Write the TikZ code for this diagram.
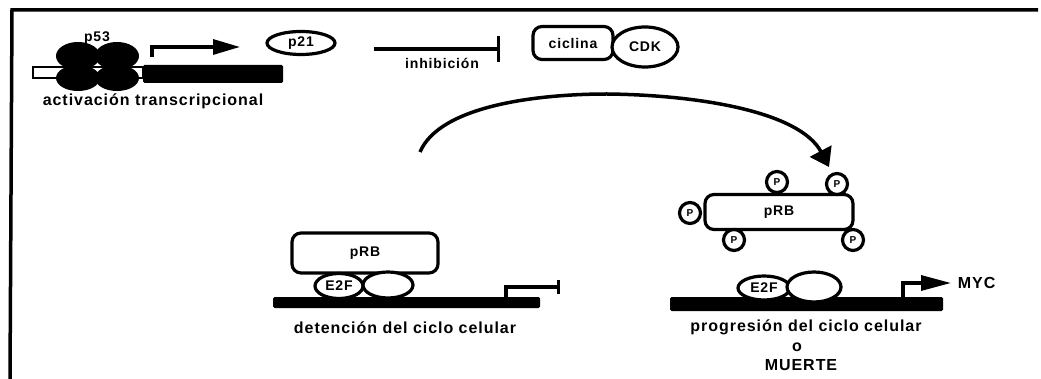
\documentclass[tikz,border=0pt]{standalone}
\usepackage{fontspec}
\setmainfont{Liberation Sans}[LetterSpace=6]
\usetikzlibrary{arrows.meta,shapes.geometric}

\begin{document}
\begin{tikzpicture}[x=1pt,y=-1pt,line width=3.2pt,
    txt/.style={font=\fontsize{16}{18}\selectfont\bfseries},
    sm/.style={font=\fontsize{14}{16}\selectfont\bfseries},
    prot/.style={draw,fill=white,ellipse,inner sep=0pt,sm},
    box/.style={draw,fill=white,rounded corners=9pt,inner sep=0pt,sm},
    pho/.style={draw,fill=white,circle,minimum size=21pt,inner sep=0pt,
        font=\fontsize{10}{11}\selectfont\bfseries},
    dna/.style={fill=black,rounded corners=1.5pt},
    prom/.style={-{Triangle[length=27pt,width=15pt]}},
    stop/.style={-{Bar[width=13pt]}}]
            \useasboundingbox (0,0) rectangle (1041,379);

            % frame
            \coordinate (f1) at (12,10);
            \coordinate (f2) at (1038,10);
            \coordinate (f3) at (10,379);
            \draw[line width=3.5pt] (f3) -- (f1) -- (f2);

            % p53 on its promoter
            \draw[fill=white,line width=2.5pt] (33,67) rectangle (143,78);
            \fill[dna] (143,65) rectangle (283,83);
            \fill (78,56) ellipse (22 and 14);
            \fill (117,56) ellipse (22 and 14);
            \fill (78,78) ellipse (22 and 13);
            \fill (117,78) ellipse (22 and 13);
            \node[sm] (p53) at (97,38) {p53};
            \coordinate (tss1) at (152,57);
            \coordinate (tss1end) at (240,47);
            \draw[prom] (tss1) |- (tss1end);
            \node[txt] (activ) at (153,101) {activación transcripcional};

            % p21 -| ciclina/CDK
            \node[prot,minimum width=68pt,minimum height=23pt] (p21) at (301,43) {p21};
            \node[box,minimum width=80pt,minimum height=33pt] (ciclina) at (573,43) {ciclina};
            \node[prot,minimum width=66pt,minimum height=40pt] (cdk) at (645,47) {CDK};
            \draw[-{Bar[width=26pt]},shorten <=37pt,shorten >=31pt] (p21.east |- 0,49) -- (ciclina.west |- 0,49);
            \node[sm] (inhib) at (442,63) {inhibición};

            % fosforilacion
            \coordinate (a1) at (420,152);
            \coordinate (a2) at (607,94);
            \coordinate (a3) at (829,167);
            \draw[line width=3.5pt,-{Triangle[length=18pt,width=24pt]}]
                (a1) .. controls (440,105) and (540,94) .. (a2)
                .. controls (700,95) and (800,112) .. (a3);

            % pRB unido a E2F
            \fill[dna] (273,297) rectangle (540,308);
            \node[box,minimum width=146pt,minimum height=40pt] (prb1) at (365,253) {pRB};
            \node[prot,minimum width=48pt,minimum height=25pt] (e2f1) at (339,286) {E2F};
            \node[prot,minimum width=50pt,minimum height=26pt] (dp1) at (388,285) {};
            \coordinate (tss2) at (506,298);
            \coordinate (tss2end) at (560,287);
            \draw[stop] (tss2) |- (tss2end);
            \node[txt] (deten) at (405,328) {detención del ciclo celular};

            % pRB fosforilada
            \node[box,minimum width=148pt,minimum height=35pt] (prb2) at (779,212) {pRB};
            \node[pho] (ph1) at (777,182) {P};
            \node[pho] (ph2) at (837,184) {P};
            \node[pho] (ph3) at (690,213) {P};
            \node[pho] (ph4) at (734,240) {P};
            \node[pho] (ph5) at (853,240) {P};

            % E2F libre
            \fill[dna] (670,297) rectangle (943,311);
            \node[prot,minimum width=52pt,minimum height=24pt] (e2f2) at (764,288) {E2F};
            \node[prot,minimum width=54pt,minimum height=30pt] (dp2) at (814,287) {};
            \coordinate (tss3) at (903,298);
            \coordinate (tss3end) at (951,283);
            \draw[prom,-{Triangle[length=30pt,width=15pt]}] (tss3) |- (tss3end);
            \node[txt,anchor=west] (myc) at (953,283) {MYC};
            \node[txt] (progr) at (806,327) {progresión del ciclo celular};
            \node[txt] (o) at (797,347) {o};
            \node[txt] (muerte) at (801,365) {MUERTE};
        \end{tikzpicture}
\end{document}
